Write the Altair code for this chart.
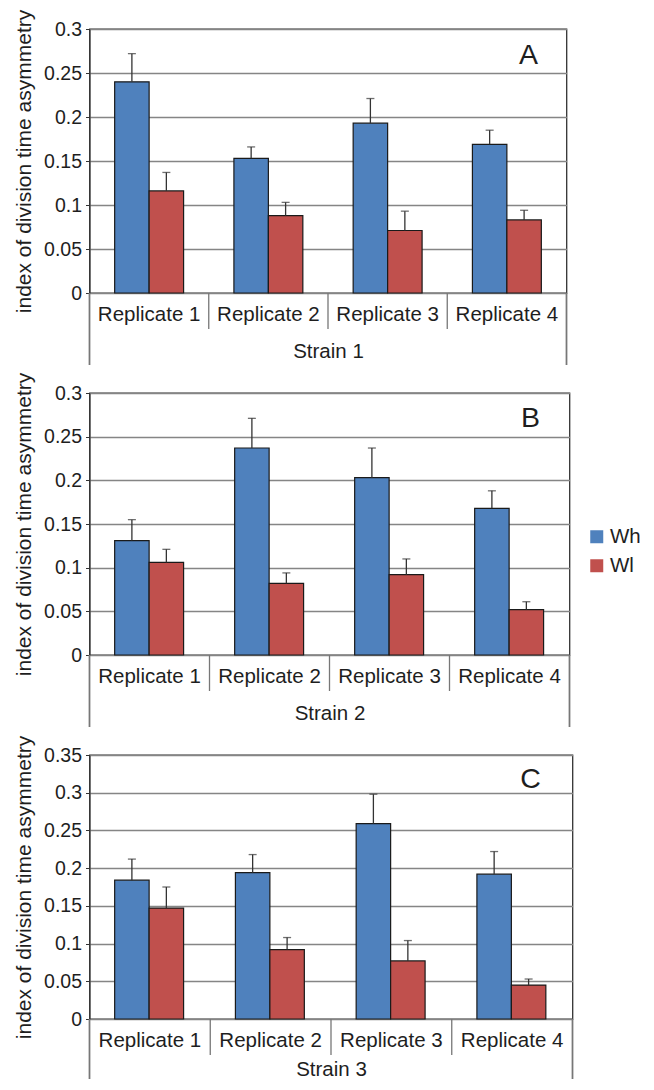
import altair as alt
import pandas as pd

replicates = ["Replicate 1", "Replicate 2", "Replicate 3", "Replicate 4"]
groups = ["Wh", "Wl"]
strains = ["Strain 1", "Strain 2", "Strain 3"]
letters = ["A", "B", "C"]
colors = ["#4F81BD", "#C0504D"]

# Panel A (Strain 1)
a_wh = [0.240, 0.153, 0.193, 0.169]
a_wh_err = [0.032, 0.013, 0.028, 0.016]
a_wl = [0.116, 0.088, 0.071, 0.083]
a_wl_err = [0.021, 0.015, 0.022, 0.011]
# Panel B (Strain 2)
b_wh = [0.131, 0.237, 0.203, 0.168]
b_wh_err = [0.024, 0.034, 0.034, 0.020]
b_wl = [0.106, 0.082, 0.092, 0.052]
b_wl_err = [0.015, 0.012, 0.018, 0.009]
# Panel C (Strain 3)
c_wh = [0.184, 0.194, 0.259, 0.192]
c_wh_err = [0.028, 0.024, 0.039, 0.030]
c_wl = [0.147, 0.092, 0.077, 0.045]
c_wl_err = [0.028, 0.016, 0.027, 0.008]

y_max = [0.3, 0.3, 0.35]
y_ticks = [
    [0, 0.05, 0.1, 0.15, 0.2, 0.25, 0.3],
    [0, 0.05, 0.1, 0.15, 0.2, 0.25, 0.3],
    [0, 0.05, 0.1, 0.15, 0.2, 0.25, 0.3, 0.35],
]

FONT = "Liberation Sans"
TXT = "#1e1e1e"
Y_TITLE = "index of division time asymmetry"


def panel(idx, wh, wh_err, wl, wl_err, w, h, letter_x, letter_y, title_pad, outer_len):
    rows = []
    for r, v, e in zip(replicates, wh, wh_err):
        rows.append({"rep": r, "grp": "Wh", "val": v, "top": v + e})
    for r, v, e in zip(replicates, wl, wl_err):
        rows.append({"rep": r, "grp": "Wl", "val": v, "top": v + e})
    df = pd.DataFrame(rows)

    xscale = alt.Scale(domain=replicates, paddingInner=0, paddingOuter=0)
    offscale = alt.Scale(domain=groups, paddingInner=0, paddingOuter=0.73)
    yscale = alt.Scale(domain=[0, y_max[idx]], nice=False)

    xaxis = alt.Axis(labelAngle=0, labelFontSize=20.5, labelColor=TXT,
                     labelPadding=11, ticks=False, domain=False,
                     titleFontSize=20.5, titleFontWeight="normal",
                     titleColor=TXT, titlePadding=title_pad)
    yaxis = alt.Axis(values=y_ticks[idx], format="~g", grid=True,
                     gridColor="#858585", gridWidth=1.3,
                     tickSize=4, tickColor="#333", domainColor="#333",
                     labelFontSize=19.5, labelColor=TXT, labelPadding=4,
                     title=Y_TITLE, titleFontSize=21, titleFontWeight="normal",
                     titleColor=TXT, titlePadding=9)

    X = alt.X("rep:N", scale=xscale, sort=replicates, title=strains[idx], axis=xaxis)
    XO = alt.XOffset("grp:N", scale=offscale, sort=groups)

    base = alt.Chart(df)

    bars = base.mark_bar(stroke="#1a1a1a", strokeWidth=1.2).encode(
        x=X,
        xOffset=XO,
        y=alt.Y("val:Q", scale=yscale, title=Y_TITLE, axis=yaxis),
        color=alt.Color("grp:N", scale=alt.Scale(domain=groups, range=colors),
                        legend=alt.Legend(title=None, orient="none",
                                          legendX=497, legendY=497.5,
                                          symbolType="square", symbolSize=169,
                                          symbolStrokeWidth=0, labelOffset=3,
                                          labelFontSize=20.5, labelColor=TXT,
                                          rowPadding=8, padding=0)),
    )

    err = base.mark_rule(color="#333", strokeWidth=1.3).encode(
        x=X,
        xOffset=XO,
        y=alt.Y("val:Q", scale=yscale, title=Y_TITLE, axis=yaxis),
        y2="top:Q",
    )
    caps = base.mark_tick(color="#333", thickness=1.3, size=8).encode(
        x=X,
        xOffset=XO,
        y=alt.Y("top:Q", scale=yscale, title=Y_TITLE, axis=yaxis),
    )

    sep_df = pd.DataFrame({"rep": replicates[1:]})
    seps = alt.Chart(sep_df).mark_rule(color="#777", strokeWidth=1.3).encode(
        x=alt.X("rep:N", scale=xscale, sort=replicates, bandPosition=0,
                title=strains[idx], axis=xaxis),
        y=alt.value(h),
        y2=alt.value(h + 36),
    )
    outer = alt.Chart(sep_df).mark_rule(color="#777", strokeWidth=1.3).encode(
        x=alt.value(0),
        x2=alt.value(0),
        y=alt.value(h),
        y2=alt.value(h + outer_len),
    )
    outer_r = alt.Chart(sep_df).mark_rule(color="#777", strokeWidth=1.3).encode(
        x=alt.value(w),
        x2=alt.value(w),
        y=alt.value(h),
        y2=alt.value(h + outer_len),
    )

    letter_df = pd.DataFrame({"label": [letters[idx]]})
    letter = alt.Chart(letter_df).mark_text(fontSize=28.5, font=FONT, color=TXT,
                                            align="center", baseline="middle").encode(
        text="label:N",
        x=alt.value(letter_x),
        y=alt.value(letter_y),
    )

    return alt.layer(bars, err, caps, seps, outer, outer_r, letter).properties(
        width=w, height=h)


pA = panel(0, a_wh, a_wh_err, a_wl, a_wl_err, 477, 264, 439, 26, 17, 72)
pB = panel(1, b_wh, b_wh_err, b_wl, b_wl_err, 480, 262, 441, 24.5, 17, 72)
pC = panel(2, c_wh, c_wh_err, c_wl, c_wl_err, 483, 264, 441, 24, 9, 60)

chart = alt.vconcat(pA, pB, pC, spacing=100, bounds="flush").properties(
    padding={"left": 4.5, "top": 0, "right": 0, "bottom": 0}
).configure(font=FONT).configure_view(
    stroke="#333", strokeWidth=1.3
).resolve_scale(color="shared")

chart.save("out.html", embed_options={"renderer": "svg", "actions": False})
